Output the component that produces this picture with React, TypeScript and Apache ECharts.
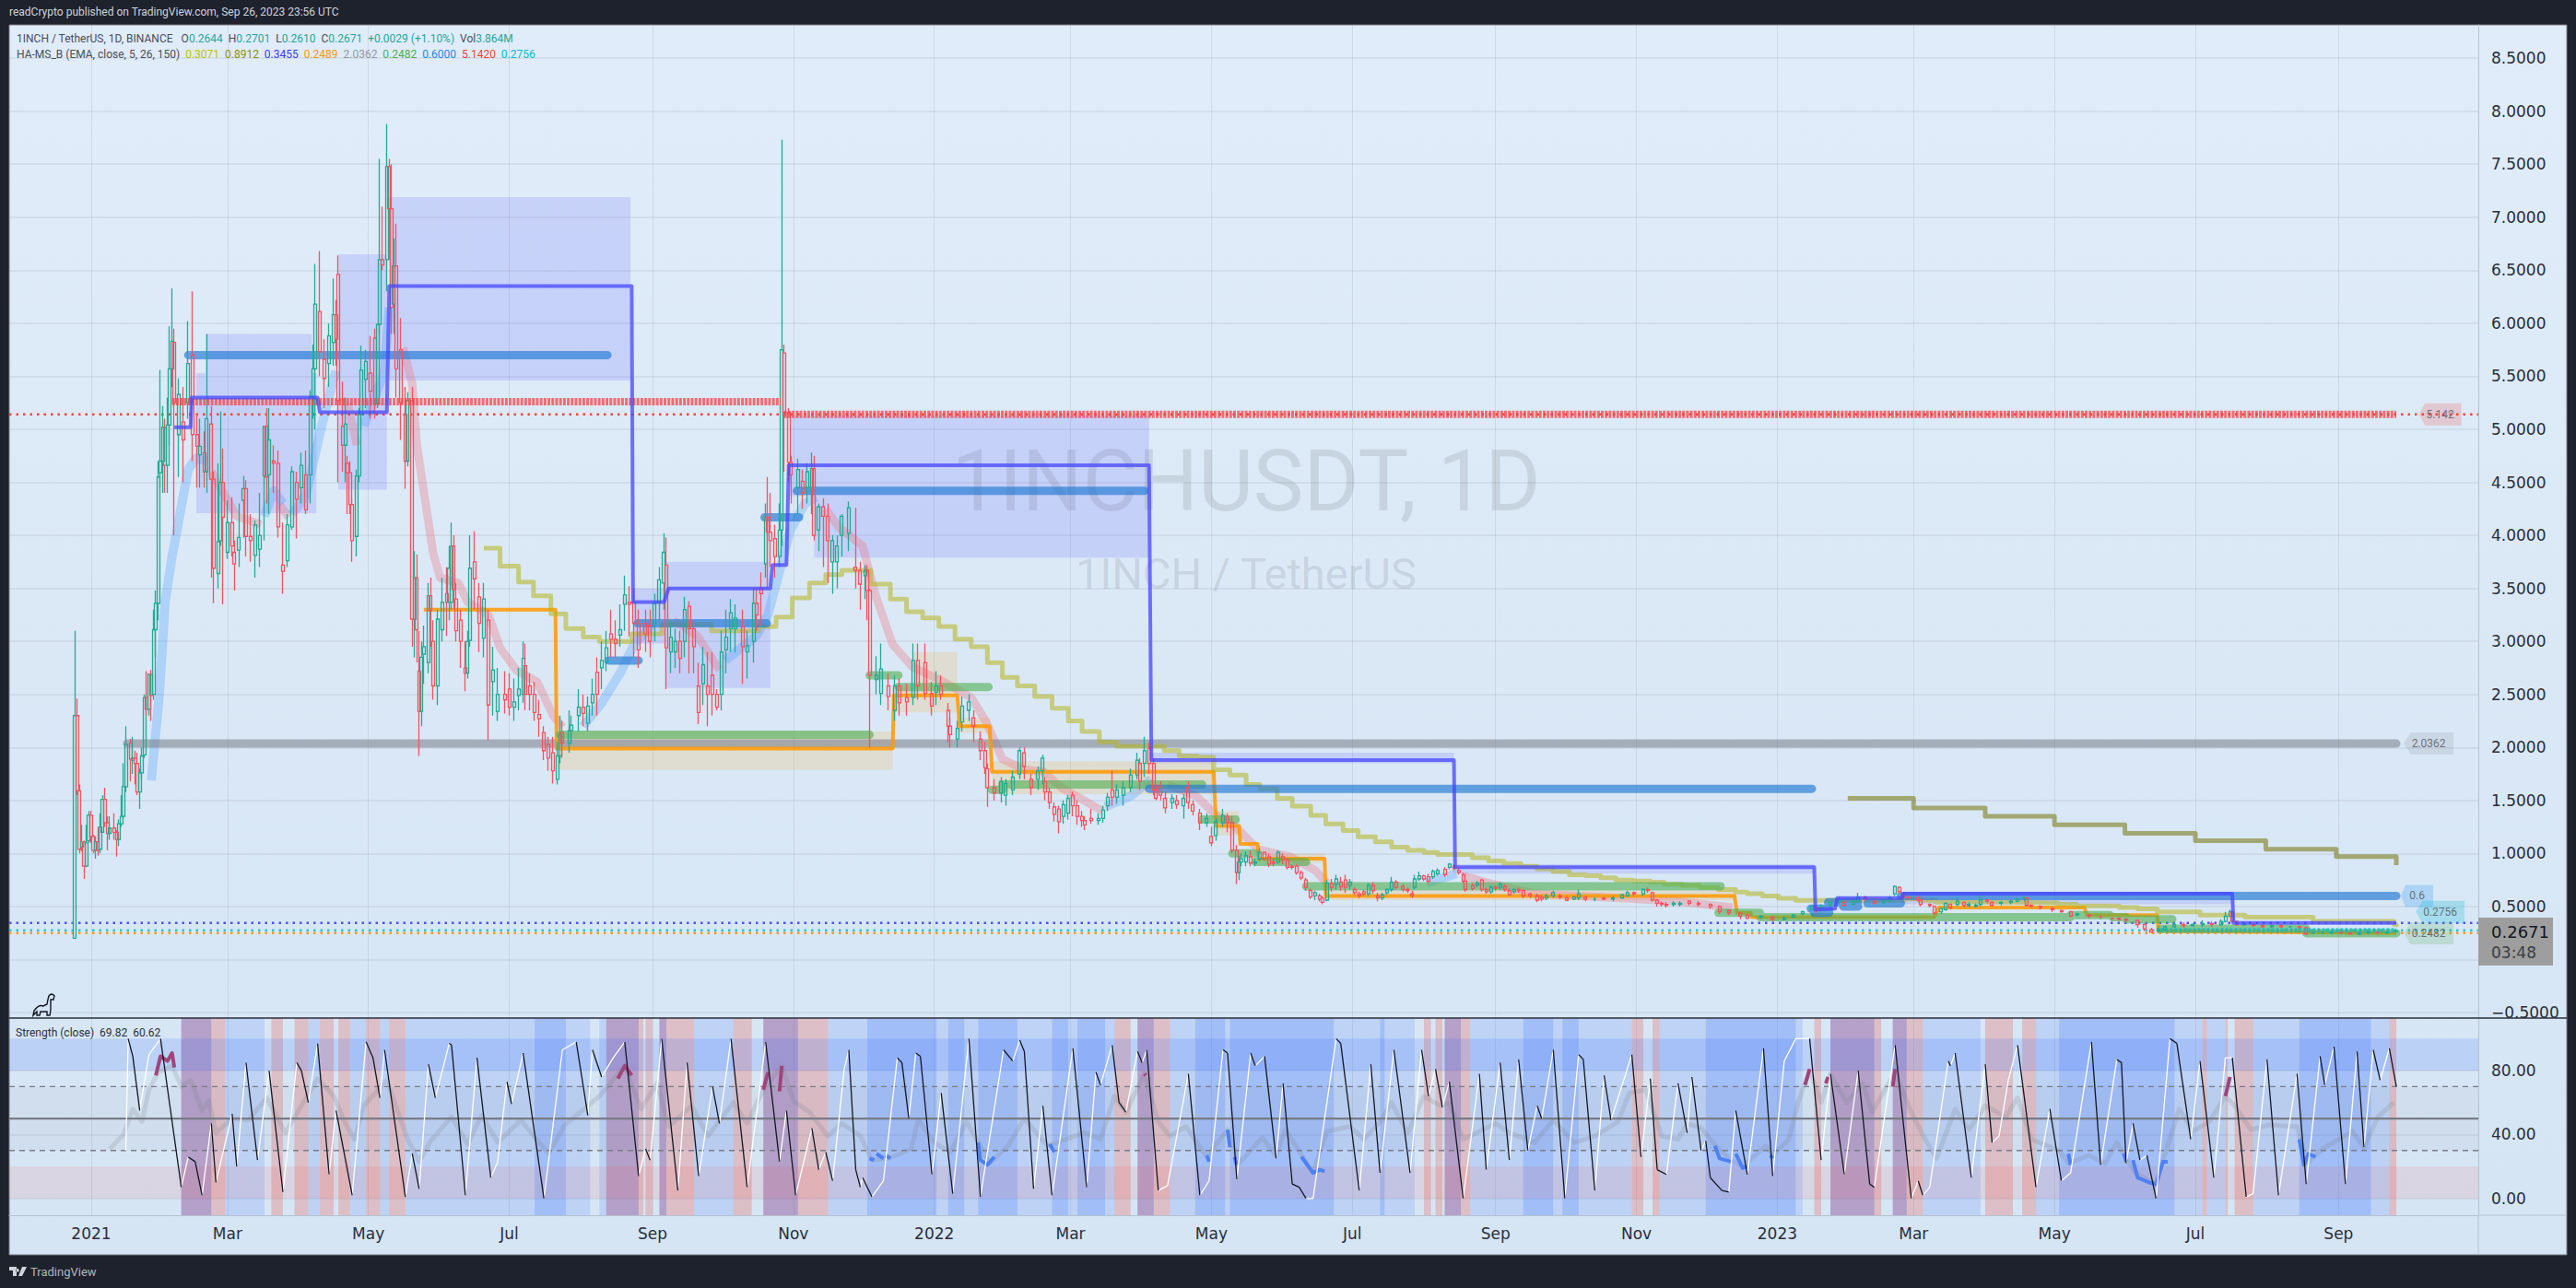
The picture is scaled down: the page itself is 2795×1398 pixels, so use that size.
import React, { useEffect, useRef } from "react";
import * as echarts from "echarts";

const monthDays = [0, 59, 120, 181, 243, 304, 365, 424, 485, 546, 608, 669, 730, 789, 850, 911, 973];
const monthLabels = ["2021", "Mar", "May", "Jul", "Sep", "Nov", "2022", "Mar", "May", "Jul", "Sep", "Nov", "2023", "Mar", "May", "Jul", "Sep"];
const priceTicks = [-0.5, 0, 0.5, 1, 1.5, 2, 2.5, 3, 3.5, 4, 4.5, 5, 5.5, 6, 6.5, 7, 7.5, 8, 8.5];
const priceLabels = [-0.5, 0.5, 1, 1.5, 2, 2.5, 3, 3.5, 4, 4.5, 5, 5.5, 6, 6.5, 7, 7.5, 8, 8.5];
const strengthLabels = [0, 40, 80];

// [day since 2021-01-01, open, close, low, high]
const candles2021a = [[-7,.2,2.3,.2,3.1],[-6,2.3,1.59,1.55,2.46],[-5,1.59,1.04,1,1.65],[-4,1.06,1.11,1.02,1.27],[-3,1.11,.88,.76,1.12],[-2,.88,1.1,.87,1.27],[-1,1.12,1.36,1.1,1.4],[0,1.36,1.16,1.1,1.4],[1,1.16,1.03,1,1.18],[2,1.03,1.11,.95,1.16],[3,1.11,1.03,.98,1.25],[4,1.04,1.25,1,1.38],[5,1.2,1.51,1.2,1.55],[6,1.51,1.29,1.25,1.62],[7,1.29,1.19,1.03,1.35],[8,1.19,1.24,1.13,1.35],[10,1.24,1.2,1.13,1.38],[11,1.2,1.13,.97,1.22],[12,1.13,1.28,1.07,1.32],[13,1.28,1.35,1.25,1.55],[14,1.35,1.63,1.33,1.85],[15,1.63,2.03,1.58,2.2],[17,2.04,1.89,1.68,2.08],[18,1.88,1.9,1.75,2.1],[19,1.9,1.85,1.65,1.97],[20,1.85,1.58,1.55,1.95],[21,1.58,1.76,1.42,1.8],[22,1.76,1.92,1.7,2],[23,1.93,2.47,1.9,2.5],[24,2.47,2.36,2.3,2.72],[25,2.36,2.69,2.3,2.7],[26,2.69,2.49,2.25,2.73],[27,2.5,3.11,2.45,3.3],[28,3.11,3.36,2.85,3.48],[29,3.36,4.55,3.2,4.7],[30,4.59,4.7,4.45,5.56],[31,4.7,5.02,4.4,5.22],[32,5.02,4.66,4.4,5.1],[33,4.66,5.04,4.4,5.3],[34,5.04,5.57,4.85,5.97],[35,5.57,5.83,5.4,6.33],[36,5.82,5.25,4,5.95],[38,4.95,5.33,4.55,5.48],[40,5.07,4.9,4.5,5.4],[42,5.25,5.62,5.1,6.02],[44,5.7,4.95,4.7,6.3],[46,4.95,4.84,4.45,5.15],[47,4.76,4.84,4.45,5.1],[49,4.78,4.6,4.45,4.98],[50,4.6,5.1,4.4,5.9],[52,5.05,4.53,3.6,5.22],[53,4.53,3.69,3.36,4.6],[55,3.64,3.94,3.5,4.68],[56,3.95,4.5,3.9,5.17],[57,4.5,4.17,3.35,4.82],[59,3.84,4.12,3.78,4.33],[61,4.12,3.9,3.8,4.36],[62,3.84,3.73,3.48,3.95],[64,3.86,3.98,3.7,4.3],[66,4.33,4.44,3.98,4.56],[67,4.44,3.99,3.8,4.52],[69,3.99,3.95,3.75,4.2],[71,3.81,4.1,3.6,4.14],[73,3.87,4,3.7,4.4],[75,4.56,5.03,3.95,5.03],[76,5.03,4.55,4.3,5.2],[77,4.57,4.9,4.2,5.2],[79,4.7,4.68,4.4,4.85],[81,4.68,4.08,3.98,4.8],[83,3.72,3.66,3.45,4.12],[85,3.76,4.1,3.7,4.2],[87,4.08,4.6,4.05,4.65],[89,4.5,4.34,3.97,4.6],[91,4.45,4.66,4.3,4.78],[93,4.57,4.24,4.2,4.8],[95,4.57,5.31,4.3,5.37],[96,5.31,5.57,5.1,5.8],[97,5.57,6.18,5,6.56],[99,6.11,5.73,5.5,6.68],[101,5.66,5.48,5.2,5.85],[103,5.62,5.88,5.4,6],[105,5.82,6.08,5.6,6.42],[106,6.08,5.85,5.6,6.22],[107,6.46,5.27,4.5,6.64],[109,5.03,4.85,4.6,5.45],[110,4.85,5.05,4.5,5.3],[111,4.68,4.59,4.2,4.75],[112,4.59,4.29,4.2,4.7],[113,4.29,3.95,3.75,4.35],[115,3.99,4.56,3.8,4.62],[116,4.56,5.14,4.5,5.2],[117,5.14,5.56,5,5.79],[119,5.47,5.64,5.2,5.75],[121,5.53,5.36,5.1,5.88],[123,5.86,5.24,5.1,5.95],[124,5.24,5.99,5.2,6],[125,5.99,6.6,5.9,7.55],[126,6.6,6.55,6.5,7.1],[128,6.6,7.48,6.3,7.88],[129,7.48,7.08,6.6,7.55],[130,7.08,6.15,5.9,7.5],[131,6.18,6.54,5.9,6.8],[132,6.54,5.57,5.3,6.94],[134,5.75,5.25,4.9,6.05],[136,5.14,4.7,4.44,5.4],[137,4.7,5.27,4.65,5.35],[139,5.27,3.21,2.95,5.4],[140,3.21,3.6,2.85,3.85],[141,3.6,3.11,2.8,3.82],[142,2.72,2.34,1.92,3.1],[143,2.34,2.85,2.2,3],[144,2.88,2.95,2.6,3.15],[146,2.8,3.43,2.7,3.55],[147,3.43,3.29,2.95,3.6],[148,3,2.58,2.45,3.2],[150,2.58,3.21,2.4,3.3],[152,3.11,3.37,3,3.6],[154,3.45,3.37,3.05,3.7],[155,3.37,3.69,3.2,3.9],[156,3.37,3.9,3.3,4.12],[157,3.9,3.49,3.3,4],[158,3.4,3.1,3,3.55],[160,3.2,3,2.75,3.3],[162,2.75,2.7,2.53,3],[163,2.7,3,2.65,3.1],[164,3.01,3.69,2.95,4],[166,3.75,3.59,3.3,4.04],[168,3.42,3.17,2.9,3.55],[170,3.03,3.4,2.85,3.55],[172,3.2,2.4,2.07,3.3],[174,2.62,2.73,2.3,2.95],[176,2.34,2.5,2.25,2.75],[179,2.5,2.45,2.32,2.72],[181,2.55,2.38,2.3,2.7],[183,2.38,2.43,2.25,2.65],[185,2.49,2.55,2.35,2.75],[187,2.5,2.84,2.42,3],[188,2.77,2.5,2.35,2.98],[190,2.58,2.5,2.35,2.7],[192,2.5,2.33,2.25,2.62],[194,2.31,2.27,2.1,2.45],[196,2.14,1.97,1.88,2.2],[198,2.03,1.9,1.78,2.1],[200,1.95,1.78,1.66,2.1]];
const candles2021b = [[202,1.7,1.92,1.65,2.05],[203,1.92,2.12,1.85,2.3],[204,2.14,2.04,1.9,2.25],[207,2.04,2.16,1.95,2.35],[208,2.16,2.21,2.05,2.3],[211,2.3,2.38,2.15,2.55],[213,2.38,2.32,2.2,2.5],[215,2.23,2.39,2.15,2.48],[217,2.42,2.5,2.3,2.65],[219,2.71,2.5,2.3,2.85],[221,2.75,2.82,2.55,3],[223,2.8,2.94,2.72,3.1],[225,3.07,3.02,2.85,3.3],[227,3.02,2.98,2.85,3.2],[229,3.06,3.11,2.95,3.35],[231,3.35,3.44,3.1,3.62],[233,3.37,3.35,3.05,3.52],[235,3.37,3.17,2.85,3.5],[237,3.17,2.92,2.75,3.3],[240,3.17,3.07,2.9,3.3],[242,3.15,3,2.85,3.3],[244,3.17,3.36,3,3.45],[246,3.37,3.58,3.2,3.7],[248,3.55,3.84,3.3,4.02],[249,3.72,2.94,2.55,3.98],[251,2.9,3.04,2.7,3.2],[253,2.9,3,2.75,3.12],[255,3,2.84,2.7,3.1],[257,3,3.3,2.85,3.42],[259,3.33,3.12,2.7,3.38],[261,3.12,2.95,2.7,3.2],[263,2.58,2.33,2.22,2.8],[265,2.6,2.78,2.4,2.95],[267,2.58,2.5,2.2,2.9],[269,2.68,2.5,2.3,2.9],[271,2.5,2.38,2.35,2.55],[273,2.5,2.9,2.35,3.1],[275,2.92,3.04,2.7,3.3],[277,3.12,3.27,2.9,3.4],[279,3.12,3.22,2.9,3.35],[282,3.14,2.95,2.6,3.3],[284,2.9,2.96,2.65,3.1],[287,3,3.36,2.8,3.5],[288,3.36,3.25,3.1,3.5],[290,3.5,3.45,3.15,3.65],[292,3.73,4.17,3.6,4.3],[293,4.17,4.03,3.5,4.55],[294,4.03,3.95,3.7,4.4],[296,3.97,3.8,3.6,4.1],[298,3.8,4.05,3.7,4.3],[299,4.05,5.75,3.9,7.73],[300,5.72,5.16,4.6,5.8],[302,5.16,4.69,4.5,5.2],[303,4.69,4.57,4.3,4.75],[306,4.45,4.62,4.2,4.72],[308,4.51,4.4,4.25,4.62],[310,4.45,4.6,4.3,4.68],[312,4.42,4.63,4.2,4.78],[313,4.63,4,3.95,4.75],[315,4.05,4.27,3.85,4.3],[317,4.27,4.18,3.7,4.35],[319,4.18,3.95,3.55,4.3],[321,3.75,3.95,3.45,4],[323,3.75,3.9,3.5,4],[325,4,4.18,3.8,4.2],[328,4.02,4.26,3.85,4.32],[331,3.7,3.67,3.5,4.26],[333,3.67,3.54,3.3,3.75],[335,3.62,3.67,3.4,3.72],[336,3.67,3.48,3.2,3.72],[337,3.48,2.68,2,3.5],[340,2.64,2.68,2.5,2.86],[342,2.51,2.74,2.4,2.98],[345,2.58,2.48,2.35,2.7],[348,2.35,2.58,2.25,2.68],[350,2.58,2.42,2.3,2.65],[353,2.47,2.43,2.3,2.6],[356,2.47,2.82,2.4,2.98],[358,2.82,2.58,2.45,2.98],[361,2.8,2.51,2.45,2.98],[364,2.51,2.39,2.3,2.62]];
const candles2022a = [[366,2.52,2.58,2.4,2.72],[368,2.58,2.5,2.45,2.68],[371,2.35,2.2,2.05,2.42],[372,2.2,2.12,2,2.28],[375,2.08,2.18,2,2.25],[377,2.24,2.39,2.15,2.48],[380,2.35,2.43,2.25,2.5],[382,2.28,2.2,2.05,2.35],[385,2.08,1.97,1.88,2.15],[387,1.97,1.81,1.75,2.05],[388,1.8,1.62,1.44,1.85],[391,1.62,1.57,1.5,1.7],[394,1.57,1.68,1.48,1.72],[396,1.55,1.66,1.45,1.7],[399,1.6,1.72,1.55,1.78],[402,1.75,1.97,1.7,2],[404,1.95,1.82,1.7,2],[407,1.7,1.62,1.55,1.75],[410,1.7,1.78,1.6,1.82],[412,1.78,1.9,1.65,1.93],[413,1.68,1.58,1.5,1.72],[415,1.58,1.48,1.42,1.62],[417,1.44,1.37,1.3,1.48],[419,1.42,1.3,1.19,1.45],[421,1.35,1.46,1.28,1.5],[423,1.38,1.52,1.32,1.55],[425,1.55,1.45,1.35,1.58],[427,1.45,1.35,1.27,1.5],[429,1.35,1.31,1.25,1.4],[430,1.31,1.27,1.22,1.35],[433,1.33,1.31,1.28,1.42],[436,1.31,1.33,1.27,1.38],[438,1.33,1.41,1.29,1.45],[440,1.45,1.53,1.4,1.57],[442,1.6,1.53,1.45,1.78],[444,1.53,1.6,1.47,1.65],[447,1.55,1.62,1.45,1.68],[450,1.62,1.74,1.58,1.8],[453,1.74,1.88,1.7,1.95],[454,1.85,1.68,1.6,1.9],[456,1.85,1.97,1.72,2.1],[458,1.99,1.85,1.75,2.05],[460,1.85,1.6,1.55,1.9],[461,1.6,1.52,1.5,1.65],[463,1.63,1.55,1.5,1.68],[465,1.52,1.43,1.38,1.58],[468,1.48,1.52,1.42,1.56],[470,1.5,1.46,1.42,1.55],[473,1.45,1.52,1.33,1.56],[475,1.62,1.48,1.42,1.68],[477,1.46,1.4,1.36,1.5],[480,1.38,1.29,1.22,1.42],[483,1.29,1.33,1.25,1.38],[485,1.16,1.1,1.07,1.25],[487,1.17,1.3,1.12,1.33],[490,1.29,1.36,1.25,1.42],[492,1.35,1.29,1.2,1.38],[494,1.29,1.03,1,1.35],[496,1.03,.82,.71,1.08],[497,.82,.92,.75,.98],[498,.92,.95,.88,1],[500,.92,.98,.88,1.02],[502,.97,.91,.88,1.03],[504,.91,.92,.88,.95],[506,.95,1.01,.93,1.05],[508,1.01,.95,.93,1.02],[510,.97,.9,.87,1],[512,.92,.91,.88,.95],[514,.92,1.01,.9,1.03],[516,.97,.94,.9,1],[518,.94,.87,.85,.96],[520,.88,.87,.85,.9],[522,.88,.82,.8,.9],[524,.82,.77,.75,.84],[526,.75,.68,.65,.77],[528,.65,.59,.57,.67],[530,.6,.63,.56,.65],[532,.6,.57,.55,.62],[533,.58,.54,.52,.6],[535,.56,.72,.55,.75],[537,.72,.68,.64,.76],[539,.71,.76,.66,.8],[541,.73,.69,.65,.78],[543,.75,.68,.63,.8],[545,.7,.73,.66,.76],[547,.66,.63,.61,.68],[549,.62,.6,.58,.64],[551,.64,.62,.6,.66],[553,.62,.7,.6,.72],[555,.7,.65,.62,.73],[557,.6,.58,.55,.63],[559,.58,.61,.56,.63],[561,.63,.66,.61,.67],[563,.66,.73,.64,.78],[565,.73,.68,.66,.75],[568,.69,.66,.64,.71],[570,.66,.65,.63,.68],[572,.62,.6,.58,.65],[573,.68,.76,.66,.8],[575,.76,.79,.74,.83],[577,.79,.76,.74,.8],[579,.78,.74,.72,.81],[581,.78,.83,.76,.85],[583,.81,.84,.79,.86],[586,.85,.8,.78,.87],[588,.87,.9,.85,.91],[590,.88,.86,.84,.9],[592,.84,.82,.8,.86],[594,.8,.74,.72,.82],[595,.74,.66,.64,.76],[598,.7,.67,.65,.72],[600,.7,.72,.68,.74],[602,.75,.66,.64,.76],[604,.66,.64,.62,.68],[606,.64,.68,.62,.7],[608,.68,.67,.65,.7],[610,.68,.71,.66,.73],[612,.69,.66,.64,.71],[614,.65,.61,.6,.67],[616,.64,.66,.62,.67],[618,.66,.65,.63,.68],[620,.65,.6,.58,.66],[623,.62,.6,.58,.63],[626,.6,.56,.54,.62],[628,.59,.57,.55,.61],[630,.58,.6,.56,.62],[633,.6,.63,.58,.65],[636,.6,.59,.57,.62],[639,.58,.56,.55,.6],[642,.57,.59,.56,.6],[644,.58,.62,.56,.66],[647,.59,.57,.55,.6],[651,.57,.57,.55,.59],[655,.58,.57,.56,.59],[659,.57,.58,.55,.6],[663,.58,.61,.57,.62],[665,.6,.63,.59,.65],[668,.63,.62,.6,.64],[672,.62,.66,.6,.67],[674,.66,.65,.63,.68],[676,.63,.56,.55,.64],[678,.56,.53,.5,.57],[680,.53,.52,.5,.55],[682,.52,.51,.49,.54],[685,.52,.53,.5,.55]];
const candles2023 = [[688,.52,.53,.5,.55],[692,.55,.53,.51,.56],[696,.53,.52,.5,.55],[701,.52,.5,.48,.53],[705,.5,.45,.43,.51],[709,.46,.44,.42,.47],[714,.44,.41,.38,.45],[717,.42,.39,.38,.43],[723,.4,.41,.38,.42],[728,.4,.38,.36,.41],[733,.38,.39,.37,.41],[737,.4,.42,.39,.43],[741,.43,.45,.42,.46],[745,.47,.5,.46,.51],[747,.49,.46,.44,.5],[749,.48,.5,.47,.52],[753,.51,.54,.5,.55],[757,.54,.55,.52,.59],[759,.54,.51,.5,.56],[763,.52,.55,.51,.57],[765,.55,.59,.53,.63],[768,.59,.57,.55,.6],[772,.55,.53,.52,.56],[776,.54,.55,.52,.56],[779,.56,.58,.54,.6],[781,.62,.69,.6,.7],[783,.68,.64,.62,.69],[785,.62,.59,.57,.63],[787,.59,.58,.56,.6],[791,.58,.56,.54,.6],[792,.56,.52,.5,.57],[796,.52,.51,.49,.53],[798,.5,.44,.42,.51],[801,.45,.48,.43,.49],[803,.47,.53,.46,.54],[805,.52,.49,.47,.53],[808,.52,.55,.5,.59],[811,.54,.51,.49,.55],[813,.51,.52,.49,.54],[816,.5,.51,.49,.53],[818,.52,.56,.5,.61],[821,.56,.55,.53,.57],[823,.54,.51,.5,.55],[827,.53,.54,.51,.55],[831,.54,.55,.52,.56],[834,.55,.57,.54,.58],[837,.57,.58,.55,.6],[838,.58,.51,.5,.59],[840,.51,.5,.49,.52],[844,.5,.49,.47,.51],[849,.48,.47,.45,.5],[853,.46,.45,.44,.47],[857,.45,.41,.4,.46],[860,.42,.43,.41,.44],[865,.42,.41,.39,.43],[870,.4,.4,.38,.42],[875,.39,.39,.37,.4],[878,.39,.38,.37,.4],[881,.38,.37,.35,.39],[886,.37,.33,.3,.38],[889,.33,.29,.27,.34],[892,.28,.26,.25,.3],[895,.27,.28,.25,.3],[898,.28,.31,.27,.32],[902,.31,.33,.3,.34],[906,.33,.32,.3,.35],[910,.32,.33,.31,.34],[914,.33,.34,.31,.37],[918,.34,.33,.31,.36],[922,.33,.36,.32,.38],[924,.36,.41,.35,.45],[926,.41,.45,.4,.47],[927,.45,.36,.35,.46],[929,.36,.33,.32,.37],[932,.33,.34,.32,.35],[936,.33,.32,.31,.34],[940,.32,.31,.3,.33],[944,.31,.32,.3,.33],[948,.32,.31,.3,.33],[952,.31,.31,.3,.32],[956,.31,.3,.29,.32],[959,.3,.24,.23,.31],[962,.25,.25,.24,.26],[966,.25,.25,.24,.26],[970,.25,.26,.24,.27],[974,.26,.25,.24,.27],[978,.25,.24,.24,.26],[982,.24,.25,.23,.26],[986,.25,.26,.24,.27],[990,.26,.25,.24,.27],[994,.25,.26,.24,.27],[998,.2644,.2671,.261,.2701]];

const blueStep = [[36,5.02],[43,5.02],[43.5,5.3],[98,5.3],[99,5.16],[128,5.16],[129,6.35],[234,6.35],[234.6,3.37],[248,3.37],[250,3.5],[294,3.5],[295,3.72],[301,3.72],[302,4.66],[458,4.66],[459,1.88],[590,1.88],[590.5,.87],[746,.87],[746.5,.47],[755,.48],[756,.58],[784,.58],[784.5,.62],[927,.62],[927.5,.345],[998,.345]];
const orangeStep = [[144,3.3],[201,3.3],[201.5,1.99],[347,1.99],[347.5,2.49],[375,2.49],[376,2.2],[389,2.2],[390,1.77],[486,1.77],[487,1.26],[497,1.26],[497.5,1.09],[505,1.09],[505.5,.95],[534,.95],[534.5,.6],[711.5,.6],[712.5,.44],[718.5,.44],[719,.4],[798,.4],[800,.49],[863,.49],[864,.42],[894.5,.42],[895,.27],[998,.2489]];
const khakiStep = [[170,3.88],[177,3.71],[185,3.56],[191.5,3.43],[199,3.26],[205.5,3.12],[213,3.04],[220,3],[234,3.07],[247,3.16],[268.5,3.1],[289,3.14],[296.5,3.23],[303.5,3.41],[311,3.55],[318,3.63],[325,3.67],[337.5,3.54],[346,3.4],[353,3.28],[360,3.22],[367,3.14],[374,3.02],[381,2.95],[388,2.8],[394.5,2.66],[401,2.58],[408.5,2.48],[416,2.37],[423,2.25],[429,2.15],[436.5,2.05],[444,2.01],[464.5,1.97],[471,1.92],[479,1.91],[486,1.79],[493,1.74],[500,1.65],[506,1.61],[513.5,1.52],[520,1.447],[528,1.36],[534.5,1.28],[542,1.215],[548.5,1.157],[556,1.11],[563,1.06],[570,1.03],[577,1.01],[583,.99],[598,.96],[605,.93],[611.5,.905],[619,.88],[626,.853],[633,.83],[640,.8],[647,.79],[653.5,.77],[660,.75],[667.5,.74],[675,.73],[681,.71],[689,.7],[696.5,.68],[704.5,.66],[712,.636],[717,.62],[723.5,.6],[730.5,.578],[738,.558],[785,.57],[792,.557],[798.5,.54],[831.5,.535],[851.5,.52],[859.5,.505],[878,.49],[886,.477],[894.5,.45],[913,.42],[932.5,.4],[962,.36],[997,.33],[998,.307]];
const oliveStep = [[760.5,1.52],[789,1.43],[820,1.35],[850,1.27],[880.5,1.19],[911,1.12],[941.5,1.04],[972,.97],[997,.97],[998,.89]];

const greenLevels = [[203,337,2.12],[337,349.5,2.68],[349.5,388.5,2.57],[390,394.5,1.6],[394.5,481,1.65],[481,495.5,1.32],[494,504,1],[504,526,.92],[526,705.5,.69],[704.5,722.5,.44],[722.5,857,.4],[857,874,.42],[875,881,.4],[881,901,.38],[896,959,.29],[959,998,.248]];
const blueLevels = [[42,223.5,5.7],[224,237,2.82],[236.5,292.5,3.17],[291.5,306.5,4.17],[305.5,456,4.42],[458,745,1.61],[744.5,752.5,.48],[746,752.5,.44],[752,765,.54],[758.5,765,.5],[769,783.5,.53],[783.5,998,.6]];
const greyLevels = [[15.5,998,2.0362]];
const redLevels = [[35,298.5,5.26],[300,998,5.142]];
const cyanLevels = [[896,998,.2756]];

const blueZones = [[45.5,97.5,5.53,4.21],[49.5,95.5,5.9,5.53],[107,128,6.65,4.43],[129,233.5,7.19,5.46],[235,248.5,3.5,2.98],[248.5,294,3.75,2.56],[302.5,313,5.13,4.37],[313,458,5.13,3.79],[459,590,1.95,1.85],[590,746,.9,.81],[783.5,927,.64,.52]];
const tanZones = [[202,347,2.15,1.79],[347,356,2.58,2.33],[356,375,2.9,2.33],[375,389,2.28,2.14],[390,486,1.87,1.56],[487,497,1.4,1.17],[508,534,1,.91],[534.5,711.5,.65,.56]];

const blueRibbon = [[[26,1.69],[29.5,2.5],[32,3.37],[35,3.8],[39,4.27],[42,4.62],[45.5,4.73],[50,4.7]],[[75,4.18],[79,4.42],[83,4.3]],[[87,4.2],[93,4.38],[99,4.96],[104,5.4],[106,5.55]],[[118,5.03],[127,5.55],[128,5.86],[129,6.15]],[[213,2.2],[221,2.42],[229,2.7],[235,2.97],[243,3.17]],[[274.5,2.82],[288,3.05],[293,3.25],[298.5,3.7],[302.5,4.04],[309,4.3],[314,4.36]],[[439,1.44],[450,1.54],[459,1.7]],[[578,.72],[591,.81]]];
const pinkRibbon = [[[52,4.6],[63,4.18],[73.5,4.1]],[[81.5,4.29],[85.5,4.17]],[[111,5.25],[115,4.85]],[[135,5.77],[139,5.43],[141,4.85],[145,4.27],[148,3.84],[151,3.6],[159,3.55],[163,3.37],[172,3.25],[177,2.94],[184,2.73],[193,2.62],[200,2.3],[204,2.19]],[[252,3.2],[262.5,3.05],[272,2.73]],[[318,4.25],[323.5,4.08],[334,3.9],[339.5,3.44],[347,2.97],[355.5,2.76],[368,2.63],[381,2.47],[387.5,2.24],[394.5,1.89],[404,1.79],[412.5,1.77],[420,1.62],[438,1.4]],[[466,1.65],[478.5,1.54],[486.5,1.37],[496.5,1.23],[505,1.04],[519,.97],[530,.84],[535,.72]],[[594,.79],[607,.71],[625.5,.62],[686.5,.55],[710.5,.49]]];

const dottedLevels = [{ v: 5.142, c: "#f44336" }, { v: 0.3455, c: "#5050ff" }, { v: 0.2756, c: "#26c6da" }, { v: 0.2489, c: "#ff9800" }];
const priceTags = [
  { d: 1017, v: 5.142, t: "5.142", c: "rgba(244,67,54,0.25)", w: 46 },
  { d: 1012, v: 2.0362, t: "2.0362", c: "rgba(120,123,134,0.2)", w: 54 },
  { d: 1007, v: 0.6, t: "0.6", c: "rgba(33,150,243,0.3)", w: 35 },
  { d: 1017, v: 0.45, t: "0.2756", c: "rgba(0,188,212,0.3)", w: 53 },
  { d: 1012, v: 0.248, t: "0.2482", c: "rgba(76,175,80,0.25)", w: 54 },
];

const redBands = [[39,58],[78,83],[88,94],[99,105],[107,112],[119,125],[129,136],[223,239],[240,243],[246,261],[278,286],[291,319],[443,450],[453,467],[577,580],[582,585],[586,597],[667,672],[676,679],[746,749],[753,775],[780,793],[820,832],[836,842],[914,916],[924,925],[928,936],[995,998]];
const darkBands = [[39,52],[192,205.5],[223,237],[246,249],[291,306],[336,366],[371,378],[384,401],[416,423],[427,439],[453,460],[478,491],[493,538],[558,560],[586,593],[620,633],[637,644],[699,738],[753,772],[780,786],[852,902],[956,987]];
const lightBands = [[58,75],[94,99],[112,119],[125,129],[136,192],[205.5,216],[220,223],[261,278],[319,336],[366,371],[378,384],[401,416],[423,427],[439,443],[467,478],[491,493],[538,558],[560,573],[597,620],[633,637],[644,667],[679,699],[738,741],[793,818],[842,852],[902,914],[916,924],[936,956],[987,995]];

const stochPoints = [[15,30],[16,100],[18,89],[21,55],[25,90],[30,100],[39,7],[42,26],[45,23],[48,2],[52,47],[54,10],[61,53],[63,20],[67,85],[72,24],[77,80],[83,4],[89,85],[91,80],[94,60],[98,97],[103,15],[106,55],[113,2],[119,98],[122,88],[125,63],[127,93],[136,1],[139,28],[142,6],[146,84],[149,63],[155,97],[156,96],[162,2],[167,88],[173,13],[176,23],[180,73],[182,59],[187,91],[196,0],[204,93],[210,98],[215,52],[217,93],[221,76],[226,88],[231,98],[237,14],[240,31],[242,24],[247,100],[254,5],[258,85],[263,14],[269,70],[272,47],[277,100],[284,7],[292,98],[298,23],[301,55],[305,2],[312,44],[315,18],[318,29],[321,11],[326,81],[328,93],[331,18],[333,7],[334,13],[338,1],[343,11],[349,88],[351,85],[354,50],[357,91],[359,89],[364,15],[368,66],[373,3],[380,100],[385,1],[395,93],[399,86],[402,99],[404,92],[408,6],[412,58],[416,2],[425,94],[431,7],[435,79],[437,71],[442,96],[445,60],[448,54],[453,92],[455,85],[457,93],[462,5],[466,8],[475,78],[480,2],[484,11],[490,93],[492,91],[496,12],[502,91],[504,83],[508,89],[513,25],[516,72],[520,9],[523,7],[526,0],[529,0],[539,100],[541,97],[549,5],[554,84],[558,16],[564,93],[571,16],[576,93],[579,64],[582,81],[585,57],[588,73],[594,0],[601,78],[604,18],[610,85],[614,24],[618,87],[622,30],[626,58],[628,50],[633,93],[638,0],[644,90],[646,87],[651,5],[655,77],[658,49],[667,90],[671,26],[675,75],[678,18],[682,15],[687,72],[691,41],[693,76],[697,30],[699,36],[701,13],[706,5],[709,4],[712,55],[717,15],[724,94],[728,14],[733,86],[738,100],[744,100],[749,24],[753,78],[759,15],[765,80],[770,9],[772,7],[781,96],[788,0],[791,11],[793,2],[796,7],[804,86],[805,83],[807,91],[814,13],[820,84],[823,35],[826,39],[830,74],[834,96],[842,7],[848,56],[853,11],[857,16],[866,98],[870,21],[877,87],[879,85],[881,22],[884,47],[887,24],[890,27],[894,0],[900,100],[903,97],[909,37],[913,86],[919,13],[924,88],[927,88],[933,1],[936,3],[942,87],[947,2],[955,78],[959,9],[965,89],[967,71],[971,95],[976,9],[981,92],[984,32],[988,93],[991,74],[995,94],[998,70]];
const strengthGrey = [[8,31],[14,40],[18,56],[22,48],[25,68],[29,79],[35,83],[39,70],[43,74],[48,55],[51,61],[54,41],[61,50],[68,49],[76,63],[84,41],[91,58],[98,75],[105,64],[110,47],[114,37],[118,58],[128,74],[137,37],[142,23],[147,36],[156,51],[163,34],[169,52],[176,35],[186,49],[198,28],[205,46],[220,64],[231,83],[238,56],[245,72],[250,45],[260,58],[267,39],[278,60],[284,47],[291,68],[299,83],[304,61],[311,54],[319,39],[325,47],[333,39],[338,24],[345,25],[355,31],[358,49],[365,35],[372,29],[379,48],[389,22],[397,33],[404,50],[414,33],[422,37],[430,41],[437,37],[443,64],[448,54],[456,78],[462,48],[467,39],[474,45],[483,26],[492,43],[497,22],[507,38],[513,27],[517,43],[529,16],[535,42],[545,45],[551,37],[558,48],[563,60],[570,41],[577,64],[584,58],[588,60],[594,37],[608,47],[614,41],[625,35],[633,49],[642,35],[651,39],[661,48],[666,66],[673,68],[680,39],[687,37],[691,47],[697,44],[704,32],[710,24],[715,20],[725,33],[728,27],[735,37],[739,60],[744,80],[749,60],[753,78],[760,60],[767,72],[771,54],[781,79],[788,54],[794,37],[799,25],[807,56],[813,43],[820,58],[829,51],[834,63],[840,37],[852,30],[856,22],[865,27],[872,22],[877,35],[885,16],[894,9],[897,24],[904,56],[910,42],[917,48],[924,64],[928,58],[935,43],[943,46],[955,45],[959,22],[966,31],[979,42],[984,32],[990,51],[997,60]];
const magentaSegments = [[[28,77],[30,89],[33,86],[35,91],[36,82]],[[228,75],[231,83],[234,77]],[[291,68],[293,79]],[[298,67],[299,83]],[[456,78],[456.5,77]],[[742,71],[744,81]],[[751,72],[752,76]],[[780,70],[781,81]],[[924,64],[926,76]]];
const blueSegments = [[[337,25],[339,24]],[[340,28],[343,25]],[[344,27],[346,25]],[[384,35],[385,24],[388,21],[391,26]],[[415,34],[417,29]],[[483,27],[484,23]],[[492,43],[493,32]],[[495,26],[496,21]],[[524,26],[529,16],[532,18],[534,17]],[[703,33],[705,25],[710,23]],[[712,28],[715,19],[717,20]],[[727,27],[728,25]],[[856,28],[857,21]],[[880,28],[881,23]],[[884,24],[886,13],[891,10],[894,9],[897,23],[899,23]],[[956,37],[958,21],[960,28],[963,26]]];

const X_MIN = -35.5, X_MAX = 1033.5;
const FONT = "'DejaVu Sans', sans-serif";
const NARROW = "Roboto, sans-serif";
const GAP = [null, null];

const joinPaths = (paths: number[][][]) => paths.flatMap((p) => [...p, GAP]);
const levelsToPath = (levels: number[][]) => levels.flatMap(([a, b, v]) => [[a, v], [b, v], GAP]);

function App() {
  const ref = useRef<HTMLDivElement>(null);
  useEffect(() => {
    document.body.style.margin = "0";
    document.body.style.background = "#1e222d";
    echarts.graphic.registerShape("dino", echarts.graphic.extendPath(
      "M2 24 L3 19 Q8 12 13 14 L17 12 Q18 6 19 3 Q22 -1 25 3 L24 7 L21 7 L21 18 L20 24 L17 24 L17 20 L10 20 L9 24 L6 24 L6 20 Z", {}));
    echarts.graphic.registerShape("tvlogo", echarts.graphic.extendPath(
      "M0 0 H8 V10 H4 V4 H0 Z M9 2 A1.8 1.8 0 1 0 9.01 2 Z M14 0 H19 L14 10 H10 Z", {}));
    const chart = echarts.init(ref.current!, null, { renderer: "svg" });

    const line = (name: string, data: any[], color: string, width: number, z: number, extra: any = {}) => ({
      type: "line", name, data, showSymbol: false, symbol: "none", silent: true, z, connectNulls: false,
      lineStyle: { color, width, join: "round", ...(extra.lineStyle || {}) },
      xAxisIndex: extra.grid || 0, yAxisIndex: extra.grid || 0, ...(extra.step ? { step: extra.step } : {}),
    });
    const area = (name: string, rects: any[], color: string, grid: number, z: number) => ({
      type: "line", name, data: [], silent: true, xAxisIndex: grid, yAxisIndex: grid, z,
      markArea: { silent: true, itemStyle: { color }, data: rects },
    });
    const zoneRects = (zones: number[][]) => zones.map(([a, b, t, d]) => [{ xAxis: a, yAxis: t }, { xAxis: b, yAxis: d }]);
    const bandRects = (bands: number[][]) => bands.map(([a, b]) => [{ xAxis: a }, { xAxis: b }]);
    const hband = (t: number, d: number) => [[{ yAxis: t }, { yAxis: d }]];

    const white: any[] = [], black: any[] = [];
    for (let i = 1; i < stochPoints.length; i++) {
      const target = stochPoints[i][1] >= stochPoints[i - 1][1] ? white : black;
      target.push(stochPoints[i - 1], stochPoints[i], GAP);
    }

    const xAxisBase = {
      type: "value", min: X_MIN, max: X_MAX,
      axisLine: { show: false, onZero: false }, axisTick: { show: false, customValues: monthDays },
      splitLine: { show: true, lineStyle: { color: "rgba(120,123,134,0.16)", width: 1 } },
    };
    const yAxisBase = {
      type: "value", position: "right",
      axisLine: { show: true, onZero: false, lineStyle: { color: "#b5c2d0", width: 1 } },
      splitLine: { show: true, lineStyle: { color: "rgba(120,123,134,0.15)", width: 1.5 } },
    };

    chart.setOption({
      animation: false,
      backgroundColor: "#1e222d",
      grid: [
        { left: 10, width: 2679, top: 27, height: 1078 },
        { left: 10, width: 2679, top: 1105, height: 214 },
      ],
      xAxis: [
        { ...xAxisBase, gridIndex: 0, axisLabel: { show: false } },
        {
          ...xAxisBase, gridIndex: 1,
          axisLine: { show: true, onZero: false, lineStyle: { color: "#b5c2d0", width: 1 } },
          axisLabel: {
            show: true, customValues: monthDays, margin: 11, fontSize: 17, fontFamily: FONT, color: "#2a2e39",
            formatter: (v: number) => monthLabels[monthDays.indexOf(v)] ?? "",
          },
        },
      ],
      yAxis: [
        {
          ...yAxisBase, gridIndex: 0, min: -0.552, max: 8.814,
          axisTick: { show: false, customValues: priceTicks },
          axisLabel: {
            customValues: priceLabels, margin: 14, fontSize: 17, fontFamily: FONT, color: "#2a2e39",
            formatter: (v: number) => (v < 0 ? "\u2212" : "") + Math.abs(v).toFixed(4),
          },
        },
        {
          ...yAxisBase, gridIndex: 1, min: -10.5, max: 112.9,
          axisTick: { show: false, customValues: strengthLabels },
          axisLabel: {
            customValues: strengthLabels, margin: 14, fontSize: 17, fontFamily: FONT, color: "#2a2e39",
            formatter: (v: number) => v.toFixed(2),
          },
        },
      ],
      graphic: [
        {
          type: "rect", z: -10, shape: { x: 10, y: 27, width: 2775, height: 1335 },
          style: {
            stroke: "#787b86", lineWidth: 1,
            fill: { type: "linear", x: 0, y: 0, x2: 0, y2: 1, colorStops: [{ offset: 0, color: "#e0ecf9" }, { offset: 1, color: "#d5e5f4" }] },
          },
        },
        { type: "text", z: -5, x: 1352, y: 522, style: { text: "1INCHUSDT, 1D", font: `92px ${NARROW}`, fill: "rgba(120,123,134,0.2)", align: "center", verticalAlign: "middle" } },
        { type: "text", z: -5, x: 1352, y: 622, style: { text: "1INCH / TetherUS", font: `47px ${NARROW}`, fill: "rgba(120,123,134,0.2)", align: "center", verticalAlign: "middle" } },
        { type: "text", x: 10, y: 13, z: 50, style: { text: "readCrypto published on TradingView.com, Sep 26, 2023 23:56 UTC", font: `12px ${NARROW}`, fill: "#d1d4dc", verticalAlign: "middle" } },
        {
          type: "text", x: 18, y: 42, z: 50,
          style: {
            text: "{n|1INCH / TetherUS, 1D, BINANCE   O}{g|0.2644}{n|  H}{g|0.2701}{n|  L}{g|0.2610}{n|  C}{g|0.2671}{g|  +0.0029 (+1.10%)}{n|  Vol}{g|3.864M}",
            verticalAlign: "middle",
            rich: { n: { font: `12px ${NARROW}`, fill: "#4a4e59" }, g: { font: `12px ${NARROW}`, fill: "#26a69a" } },
          },
        },
        {
          type: "text", x: 18, y: 59, z: 50,
          style: {
            text: "{n|HA-MS_B (EMA, close, 5, 26, 150)}  {a|0.3071}  {b|0.8912}  {c|0.3455}  {d|0.2489}  {e|2.0362}  {f|0.2482}  {g|0.6000}  {h|5.1420}  {i|0.2756}",
            verticalAlign: "middle", font: `12px ${NARROW}`,
            rich: {
              n: { font: `12px ${NARROW}`, fill: "#4a4e59" },
              a: { font: `12px ${NARROW}`, fill: "#c2c200" },
              b: { font: `12px ${NARROW}`, fill: "#8f8f00" },
              c: { font: `12px ${NARROW}`, fill: "#3a3aff" },
              d: { font: `12px ${NARROW}`, fill: "#ff9800" },
              e: { font: `12px ${NARROW}`, fill: "#9598a1" },
              f: { font: `12px ${NARROW}`, fill: "#4caf50" },
              g: { font: `12px ${NARROW}`, fill: "#1e88e5" },
              h: { font: `12px ${NARROW}`, fill: "#f44336" },
              i: { font: `12px ${NARROW}`, fill: "#00bcd4" },
            },
          },
        },
        {
          type: "text", x: 17, y: 1121, z: 50,
          style: { text: "Strength (close)  69.82  60.62", font: `12px ${NARROW}`, fill: "#2a2e39", verticalAlign: "middle" },
        },
        { type: "dino", x: 34, y: 1078, z: 50, style: { fill: "none", stroke: "#131722", lineWidth: 1.4 } },
        { type: "line", z: 40, shape: { x1: 10, y1: 1105, x2: 2785, y2: 1105 }, style: { stroke: "#2a2e39", lineWidth: 1.5 } },
        { type: "line", z: 40, shape: { x1: 2689, y1: 1319, x2: 2785, y2: 1319 }, style: { stroke: "#b5c2d0", lineWidth: 1 } },
        { type: "line", z: 40, shape: { x1: 2689, y1: 1319, x2: 2689, y2: 1362 }, style: { stroke: "#b5c2d0", lineWidth: 1 } },
        { type: "rect", z: 60, shape: { x: 2689, y: 996, width: 81, height: 52 }, style: { fill: "#9e9e9e" } },
        { type: "text", z: 61, x: 2703, y: 1011, style: { text: "0.2671", font: `18px ${FONT}`, fill: "#131722", verticalAlign: "middle" } },
        { type: "text", z: 61, x: 2703, y: 1034, style: { text: "03:48", font: `17px ${FONT}`, fill: "#3a3d45", verticalAlign: "middle" } },
        { type: "tvlogo", z: 50, x: 10, y: 1375, style: { fill: "#d1d4dc" } },
        { type: "text", z: 50, x: 33, y: 1380, style: { text: "TradingView", font: `13px ${NARROW}`, fill: "#b2b5be", verticalAlign: "middle" } },
      ],
      series: [
        area("blueZones", zoneRects(blueZones), "rgba(80,80,255,0.16)", 0, 1),
        area("tanZones", zoneRects(tanZones), "rgba(255,152,0,0.15)", 0, 1),
        line("pinkRibbon", joinPaths(pinkRibbon as any), "rgba(240,110,120,0.32)", 9, 2),
        line("blueRibbon", joinPaths(blueRibbon as any), "rgba(60,150,255,0.28)", 10, 2),
        ...dottedLevels.map((d) =>
          line("dot" + d.v, [[X_MIN, d.v], [X_MAX, d.v]], d.c, 2.5, 2, { lineStyle: { type: [2.5, 5] } })),
        line("greyLevels", levelsToPath(greyLevels), "rgba(120,123,134,0.55)", 9, 3, { lineStyle: { cap: "round" } }),
        line("orangeStep", orangeStep, "rgba(255,152,0,0.85)", 4, 3),
        line("khakiStep", khakiStep, "rgba(181,181,30,0.55)", 5, 3, { step: "end" }),
        line("oliveStep", oliveStep, "rgba(125,125,30,0.6)", 5, 3, { step: "end" }),
        line("greenLevels", levelsToPath(greenLevels), "rgba(76,175,80,0.6)", 9, 4, { lineStyle: { cap: "round" } }),
        line("blueLevels", levelsToPath(blueLevels), "rgba(30,120,210,0.65)", 9, 4, { lineStyle: { cap: "round" } }),
        {
          type: "candlestick", name: "1INCHUSDT", silent: true, z: 5, xAxisIndex: 0, yAxisIndex: 0, barWidth: 3.5,
          encode: { x: 0, y: [1, 2, 3, 4] },
          data: [...candles2021a, ...candles2021b, ...candles2022a, ...candles2023],
          itemStyle: { color: "rgba(38,166,154,0.05)", color0: "rgba(239,83,80,0.05)", borderColor: "#22ab94", borderColor0: "#f7525f", borderWidth: 1.3 },
        },
        line("redLevels", levelsToPath(redLevels), "rgba(244,67,70,0.75)", 8, 6, { lineStyle: { type: [3, 1.2] } }),
        line("cyanLevels", levelsToPath(cyanLevels), "rgba(0,188,212,0.7)", 5, 6, { lineStyle: { type: [3, 2] } }),
        line("blueStep", blueStep, "rgba(70,70,255,0.75)", 4, 6),
        {
          type: "scatter", name: "tags", silent: true, z: 7, xAxisIndex: 0, yAxisIndex: 0,
          data: priceTags.map((t) => ({
            value: [t.d, t.v], symbol: "path://M0 50L14 0H100V100H14Z", symbolSize: [t.w, 24],
            itemStyle: { color: t.c },
            label: { show: true, position: "inside", formatter: t.t, fontSize: 12, fontFamily: NARROW, color: "#50535e" },
          })),
        },
        area("lightBands", bandRects(lightBands), "rgba(41,98,255,0.14)", 1, 1),
        area("darkBands", bandRects(darkBands), "rgba(41,98,255,0.3)", 1, 1),
        area("redBands", bandRects(redBands), "rgba(244,67,54,0.24)", 1, 1),
        area("topBand", hband(100, 80), "rgba(41,98,255,0.16)", 1, 2),
        area("midBand", hband(70, 30), "rgba(120,123,134,0.06)", 1, 2),
        area("lowBand", hband(20, 0), "rgba(244,67,54,0.1)", 1, 2),
        line("level70", [[X_MIN, 70], [X_MAX, 70]], "#787b86", 1.3, 3, { grid: 1, lineStyle: { type: [6, 5] } }),
        line("level30", [[X_MIN, 30], [X_MAX, 30]], "#787b86", 1.3, 3, { grid: 1, lineStyle: { type: [6, 5] } }),
        line("level50", [[X_MIN, 50], [X_MAX, 50]], "#787b86", 2.2, 3, { grid: 1 }),
        line("strengthGrey", strengthGrey, "rgba(120,123,134,0.2)", 5, 3, { grid: 1 }),
        line("magenta", joinPaths(magentaSegments as any), "#a0457b", 4, 5, { grid: 1 }),
        line("blueSeg", joinPaths(blueSegments as any), "#4f80f5", 4, 5, { grid: 1 }),
        line("stochUp", white, "#ffffff", 1.3, 6, { grid: 1 }),
        line("stochDown", black, "#131722", 1.3, 6, { grid: 1 }),
      ],
    });
    return () => chart.dispose();
  }, []);
  return <div ref={ref} style={{ width: 2795, height: 1398 }} />;
}

export default App;
